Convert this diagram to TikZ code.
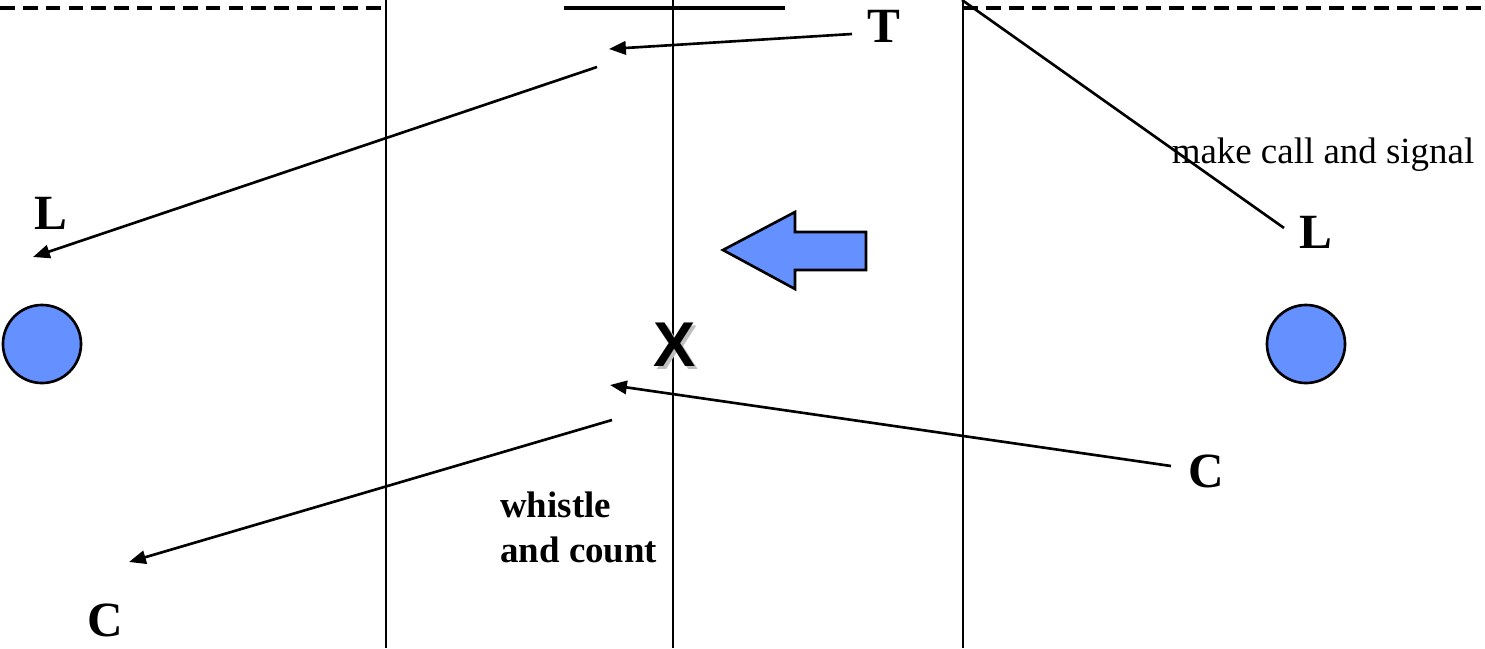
\documentclass[tikz,border=0pt]{standalone}
\usepackage{fontspec}
\setmainfont{Liberation Serif}
\setsansfont{Liberation Sans}
\usepackage{tikz}
\usetikzlibrary{arrows.meta,positioning,calc}
\definecolor{playerblue}{RGB}{100,145,255}

\begin{document}
\begin{tikzpicture}[x=0.01cm, y=-0.01cm, line width=0.75pt,
        every node/.style={inner sep=0pt},
        player/.style={font=\fontsize{14}{16}\selectfont\bfseries},
        note/.style={font=\fontsize{10.5}{12.8}\selectfont},
        run/.style={-{Triangle[length=4.8pt,width=3.8pt]}},
        sideline/.style={line width=0.95pt, dash pattern=on 4.2pt off 2.3pt},
        disc/.style={circle, draw, fill=playerblue, minimum size=0.78cm}]
        \useasboundingbox (0,0) rectangle (1485,648);
        % Field lines
        \draw[sideline] (0,8) -- (386,8);
        \draw[sideline] (963,8) -- (1485,8);
        \draw[line width=0.95pt] (564,8) -- (785,8);
        \draw (386,0) -- (386,648);
        \draw (673,0) -- (673,648);
        \draw (963,0) -- (963,648);
        % Players
        \node[player] (tPlayer) at (884,26) {T};
        \node[player] (lLeft) at (51,213) {L};
        \node[player] (lRight) at (1316,232) {L};
        \node[player] (cLeft) at (105,620) {C};
        \node[player] (cRight) at (1206,471) {C};
        % Referee
        \node[font=\fontsize{18}{20}\selectfont\sffamily\bfseries, text=black!25] at (678,348) {X};
        \node[font=\fontsize{18}{20}\selectfont\sffamily\bfseries] (ref) at (675,345) {X};
        % Discs
        \node[disc] (discLeft) at (42,344) {};
        \node[disc] (discRight) at (1306,344) {};
        % Direction of play
        \filldraw[fill=playerblue] (723,250) -- (795,212) -- (795,232) -- (866,232)
            -- (866,270) -- (795,270) -- (795,289) -- cycle;
        % Runs
        \coordinate (tFrom) at (852,34);
        \coordinate (tTo) at (609,49);
        \coordinate (lFrom) at (597,67);
        \coordinate (lTo) at (33,257);
        \coordinate (cFrom) at (1171,466);
        \coordinate (cTo) at (610,385);
        \coordinate (cFrom2) at (612,420);
        \coordinate (cTo2) at (129,562);
        \coordinate (sigFrom) at (962,0);
        \coordinate (sigTo) at (1284,228);
        \draw[run] (tFrom) -- (tTo);
        \draw[run] (lFrom) -- (lTo);
        \draw[run] (cFrom) -- (cTo);
        \draw[run] (cFrom2) -- (cTo2);
        \draw (sigFrom) -- (sigTo);
        % Notes
        \node[note] (signal) at (1323,155) {make call and signal};
        \node[note, font=\fontsize{10.5}{12.8}\selectfont\bfseries, align=left, anchor=north west] (whistle) at (499,491) {whistle\\and count};
    \end{tikzpicture}
\end{document}
